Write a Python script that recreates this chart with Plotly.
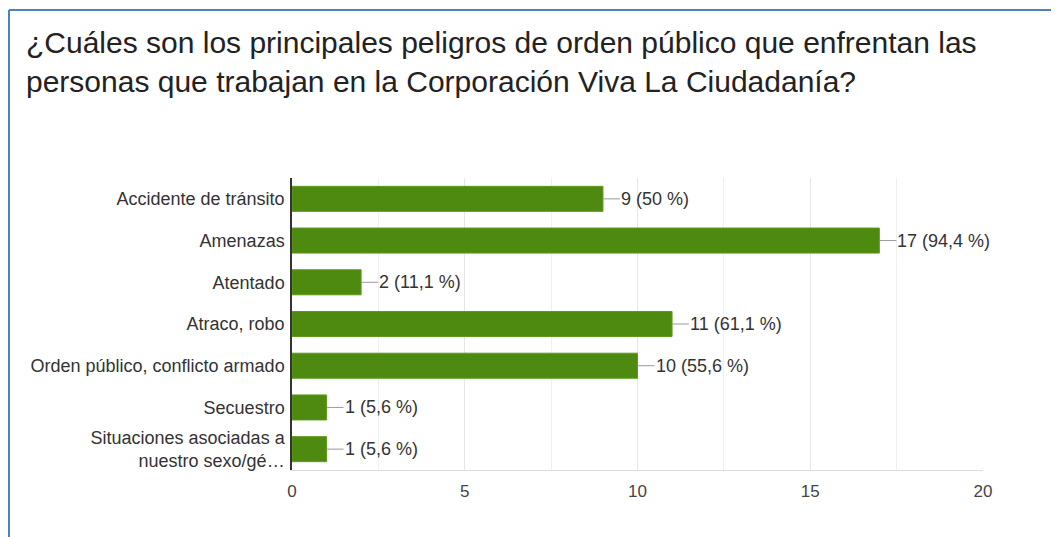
import plotly.graph_objects as go

categories = [
    "Accidente de tránsito",
    "Amenazas",
    "Atentado",
    "Atraco, robo",
    "Orden público, conflicto armado",
    "Secuestro",
    "Situaciones asociadas a<br>nuestro sexo/gé…",
]
counts = [9, 17, 2, 11, 10, 1, 1]
percents = ["50", "94,4", "11,1", "61,1", "55,6", "5,6", "5,6"]
x_ticks = [0, 5, 10, 15, 20]
title_text = ("¿Cuáles son los principales peligros de orden público que enfrentan las<br>"
              "personas que trabajan en la Corporación Viva La Ciudadanía?")

# page body has an 8px default margin: lay out in screen pixels minus that offset
O = 8
W, H = 1059 - O, 537 - O
L, R, T, B = 284, 76, 170, 67
pw, ph = W - L - R, H - T - B

def px(xs):
    return (xs - O - L) / pw

def py(ys):
    return (H - B - (ys - O)) / ph

FONT = "Liberation Sans, Arial, sans-serif"

fig = go.Figure()
fig.add_trace(go.Bar(
    x=counts, y=categories, orientation="h",
    marker=dict(color="#4f8a10", line=dict(color="#5e9a1c", width=1)),
    hoverinfo="skip",
))

annotations = []
for c, cat, p in zip(counts, categories, percents):
    annotations.append(dict(
        x=c, y=cat, xref="x", yref="y",
        text=f"{c} ({p} %)", showarrow=True, arrowhead=0, arrowwidth=1,
        arrowcolor="#9a9a9a", ax=17, ay=0, xanchor="left", standoff=0,
        font=dict(family=FONT, size=18, color="#333333"),
        borderpad=0,
    ))

annotations.append(dict(
    x=px(24), y=py(62), xref="paper", yref="paper", xanchor="left", yanchor="middle",
    text=title_text, showarrow=False, align="left",
    font=dict(family=FONT, size=30, color="#222222"),
))

shapes = [
    dict(type="line", xref="paper", yref="paper", x0=px(9), x1=px(1070), y0=py(10), y1=py(10),
         line=dict(color="#4f81bd", width=2)),
    dict(type="line", xref="paper", yref="paper", x0=px(9), x1=px(9), y0=py(10), y1=py(560),
         line=dict(color="#4f81bd", width=2)),
]

fig.update_layout(
    width=W, height=H,
    margin=dict(l=L, r=R, t=T, b=B),
    paper_bgcolor="white", plot_bgcolor="white",
    bargap=0.4, showlegend=False,
    annotations=annotations, shapes=shapes,
    font=dict(family=FONT, size=18, color="#333333"),
)
fig.update_xaxes(
    range=[0, 20], tickvals=x_ticks, ticktext=[str(v) for v in x_ticks],
    showgrid=True, gridcolor="#e6e6e6", gridwidth=1,
    minor=dict(dtick=2.5, showgrid=True, gridcolor="#f0f0f0"),
    zeroline=False, showline=True, linecolor="#dddddd",
    tickfont=dict(family=FONT, size=17, color="#444444"), ticks="", ticklabelstandoff=6,
)
fig.update_yaxes(
    autorange="reversed", showgrid=False, zeroline=False,
    showline=True, linecolor="#333333", linewidth=1.5,
    tickfont=dict(family=FONT, size=18, color="#333333"), ticks="", ticklabelstandoff=2,
)

fig.write_html("out.html")
